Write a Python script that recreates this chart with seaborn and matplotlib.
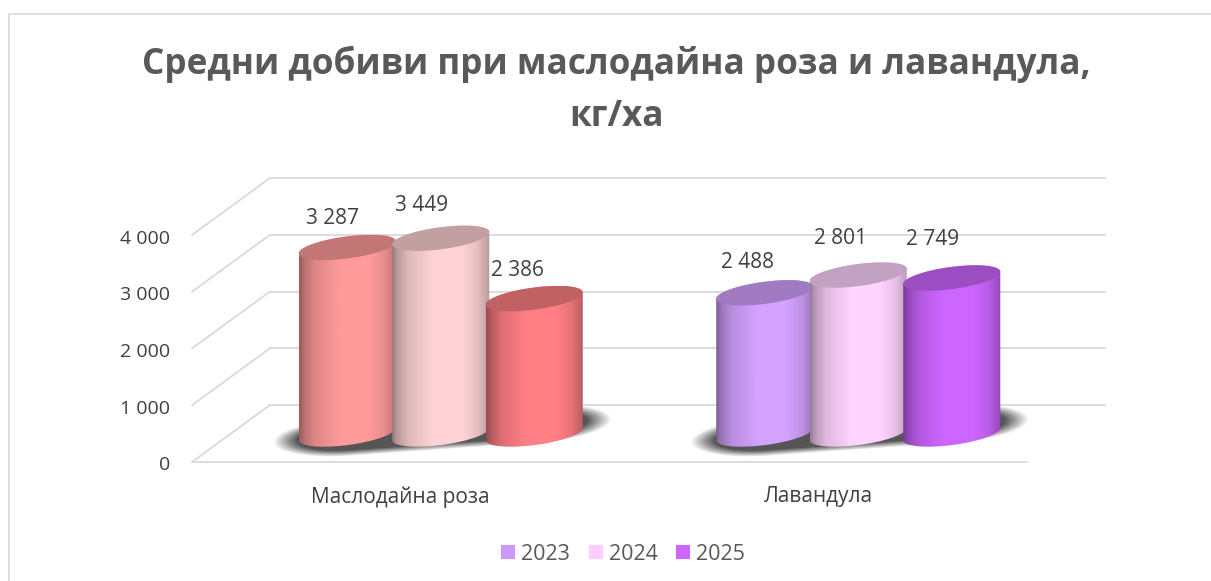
import numpy as np
import pandas as pd
import matplotlib
matplotlib.use("Agg")
import matplotlib.pyplot as plt
import seaborn as sns
from matplotlib.patches import PathPatch, Rectangle
from matplotlib.path import Path
from matplotlib.transforms import IdentityTransform, ScaledTranslation
from matplotlib.lines import Line2D

# ---------- data ----------
title = "Средни добиви при маслодайна роза и лавандула,\nкг/ха"
categories = ["Маслодайна роза", "Лавандула"]
years = ["2023", "2024", "2025"]
values_2023 = [3287, 2488]
values_2024 = [3449, 2801]
values_2025 = [2386, 2749]
y_ticks = [0, 1000, 2000, 3000, 4000]
y_tick_labels = ["0", "1 000", "2 000", "3 000", "4 000"]
value_labels_rose = ["3 287", "3 449", "2 386"]
value_labels_lavender = ["2 488", "2 801", "2 749"]
legend_colors = ["#CC99FF", "#FFCCFF", "#CC66FF"]
rose_colors = ["#FF9B9B", "#FFD3D5", "#FF7F84"]
lavender_colors = ["#D4A2FF", "#FFD4FF", "#CC66FF"]

# ---------- layout constants (pixels) ----------
W, H = 1211, 581
DPI = 100
TEXT = "#404040"
GRID = "#D9D9D9"
ax_left, ax_right, ax_zero, ax_top = 192, 1027, 462, 235
depth_x, depth_y = 78, 57
bar_dx, bar_dy = 40, 28
tilt = np.deg2rad(7.6)
ry = 11.0
half_w = 48.5
label_offsets = [(-15, 29), (-19, 33), (-17, 28), (-17, 30), (-18, 37), (-19, 38)]

sns.set_theme(style="white")
plt.rcParams["font.family"] = ["Open Sans", "DejaVu Sans"]

df = pd.DataFrame({
    "category": categories * 3,
    "year": [y for y in years for _ in categories],
    "value": values_2023 + values_2024 + values_2025,
})

fig = plt.figure(figsize=(W / DPI, H / DPI), dpi=DPI, facecolor="white")

# chart-area border (runs off the right and bottom of the picture)
fig.add_artist(Rectangle((8.5 / W, -0.05), 1.1, 1.05 - 14 / H,
                         transform=fig.transFigure, fill=False, ec="#DEDEDE", lw=1.4))


def px_axes(dx=0, dy=0, z=1):
    rect = [(ax_left + dx) / W, (H - ax_zero + dy) / H,
            (ax_right - ax_left) / W, (ax_zero - ax_top) / H]
    a = fig.add_axes(rect, zorder=z)
    a.patch.set_alpha(0)
    a.set_ylim(0, 4000)
    a.set_xlim(-0.5, 1.5)
    return a


# back wall
wall = px_axes(depth_x, depth_y, 1)
wall.set_yticks(y_ticks)
wall.set_xticks([])
wall.set_yticklabels([])
wall.tick_params(left=False)
wall.grid(axis="y", color=GRID, lw=1.3)
for g in wall.get_ygridlines():
    g.set_clip_on(False)
sns.despine(ax=wall, left=True, bottom=True)

# front axis with labels and floor line
front = px_axes(0, 0, 2)
front.set_xticks([0, 1])
front.set_xticklabels(categories, fontsize=15, color=TEXT)
front.set_yticks(y_ticks)
front.set_yticklabels(y_tick_labels, fontsize=14, color=TEXT)
front.tick_params(left=False, bottom=False)
front.tick_params(axis="y", pad=9.5)
front.tick_params(axis="x", pad=11.5)
sns.despine(ax=front, left=True, bottom=True)
front.axhline(0, color=GRID, lw=1.3, clip_on=False)
nudge = ScaledTranslation(0, -1.5 / DPI, fig.dpi_scale_trans)
for lab in front.get_yticklabels():
    lab.set_transform(lab.get_transform() + nudge)
for v in y_ticks:
    p0 = front.transData.transform((-0.5, v))
    fig.add_artist(Line2D([p0[0], p0[0] + depth_x], [p0[1], p0[1] + depth_y],
                          transform=IdentityTransform(), color=GRID, lw=1.3))

# bars (seaborn computes their geometry; they are then shaded as cylinders)
bars_ax = px_axes(bar_dx, bar_dy, 3)
sns.barplot(data=df, x="category", y="value", hue="year", hue_order=years,
            order=categories, palette=legend_colors, width=0.672, gap=0,
            legend=False, ax=bars_ax, errorbar=None)
bars_ax.set_xlim(-0.5, 1.5)
bars_ax.set_ylim(0, 4000)
bars_ax.set_axis_off()
patches = list(bars_ax.patches)
fig.canvas.draw()


def ellipse(cx, cy, t):
    u = np.array([np.cos(tilt), np.sin(tilt)])
    v = np.array([-np.sin(tilt), np.cos(tilt)])
    rx = half_w / np.cos(tilt)
    return (cx + rx * np.cos(t) * u[0] + ry * np.sin(t) * v[0],
            cy + rx * np.cos(t) * u[1] + ry * np.sin(t) * v[1])


def shade(color):
    c = np.array(matplotlib.colors.to_rgb(color))
    xs = np.linspace(0, 1, 200)
    prof = np.interp(xs, [0, 0.05, 0.16, 0.42, 0.72, 0.88, 1.0],
                     [0.58, 0.72, 0.87, 1.0, 1.0, 0.90, 0.72])
    return np.clip(c[None, None, :] * prof[None, :, None], 0, 1)


def bar_geometry(p):
    x = p.get_x() + p.get_width() / 2
    px0 = bars_ax.transData.transform((x, 0))
    px1 = bars_ax.transData.transform((x, p.get_height()))
    return px0[0], px0[1], px1[1]


# dataset order from seaborn: all of 2023, all of 2024, all of 2025
rects = {}
for i, p in enumerate(patches[:6]):
    rects[(i % 2, i // 2)] = p
    p.set_visible(False)

# floor shadows, one per category
shadow_tilt = np.deg2rad(4)
for cat in range(2):
    geo = [bar_geometry(rects[(cat, k)]) for k in range(3)]
    x0 = int(geo[0][0] - 95)
    x1 = int(geo[2][0] + 95)
    y_mid = geo[0][1]
    y0, y1 = int(y_mid - 40), int(y_mid + 45)
    xx, yy = np.meshgrid(np.arange(x0, x1), np.arange(y0, y1))
    # one stadium-shaped soft blob that runs under all three bars of the group
    gx0, gx1 = geo[0][0] + 1, geo[2][0] + 1
    px = xx - (gx0 + gx1) / 2
    py = yy - (y_mid + 3.0)
    dx = px * np.cos(shadow_tilt) + py * np.sin(shadow_tilt)
    dy = -px * np.sin(shadow_tilt) + py * np.cos(shadow_tilt)
    over = np.maximum(np.abs(dx) - (gx1 - gx0) / 2, 0)
    d = np.sqrt((over / 76) ** 2 + (dy / 19) ** 2)
    field = np.clip((1.0 - d) / 0.32, 0, 1)
    rgba = np.zeros(xx.shape + (4,))
    rgba[..., :3] = 0.24
    rgba[..., 3] = 0.88 * field
    shadow = bars_ax.imshow(rgba, extent=(x0, x1, y0, y1), origin="lower", aspect="auto",
                            transform=IdentityTransform(), zorder=1,
                            interpolation="bilinear")
    shadow.set_clip_on(False)

# cylinders
all_colors = [rose_colors, lavender_colors]
for cat in range(2):
    for k in range(3):
        cx, base, top = bar_geometry(rects[(cat, k)])
        col = all_colors[cat][k]
        tb = np.linspace(np.pi, 2 * np.pi, 60)
        tt = np.linspace(0, np.pi, 60)
        bx, by = ellipse(cx, base, tb)
        ux, uy = ellipse(cx, top, tt)
        verts = np.column_stack([np.r_[bx, ux], np.r_[by, uy]])
        path = Path(np.vstack([verts, verts[0]]), closed=True)
        clip = PathPatch(path, transform=IdentityTransform(), fc="none", ec="none")
        bars_ax.add_patch(clip)
        clip.set_clip_on(False)
        im = bars_ax.imshow(shade(col),
                            extent=(verts[:, 0].min(), verts[:, 0].max(),
                                    verts[:, 1].min(), verts[:, 1].max()),
                            aspect="auto", transform=IdentityTransform(),
                            zorder=2 + k, interpolation="bilinear")
        im.set_clip_path(clip)
        im.set_clip_box(fig.bbox)
        capx, capy = ellipse(cx, top, np.linspace(0, 2 * np.pi, 90))
        cap_col = np.array(matplotlib.colors.to_rgb(col)) * 0.76
        cap = PathPatch(Path(np.column_stack([capx, capy])), transform=IdentityTransform(),
                        fc=cap_col, ec="none", zorder=2 + k + 0.5)
        bars_ax.add_patch(cap)
        cap.set_clip_on(False)

bars_ax.set_xlim(-0.5, 1.5)
bars_ax.set_ylim(0, 4000)

# value labels
value_labels = [value_labels_rose, value_labels_lavender]
n = 0
for cat in range(2):
    for k in range(3):
        p = rects[(cat, k)]
        ox, oy = label_offsets[n]
        n += 1
        bars_ax.annotate(value_labels[cat][k],
                         (p.get_x() + p.get_width() / 2, p.get_height()),
                         xytext=(ox, oy), textcoords="offset pixels",
                         ha="center", va="center", fontsize=15, color=TEXT, zorder=10)

# title
fig.text(616 / W, 1 - 90 / H, title, ha="center", va="center", fontsize=25.3,
         fontweight="bold", color="#595959", linespacing=1.6)

# legend
handles = [Rectangle((0, 0), 1, 1, fc=c, ec="none") for c in legend_colors]
fig.legend(handles, years, loc="center", bbox_to_anchor=(623 / W, 1 - 554 / H), ncol=3,
           frameon=False, fontsize=15.5, labelcolor="#595959", handlelength=0.65,
           handleheight=0.65, handletextpad=0.28, columnspacing=0.88)

fig.savefig("out.png", dpi=DPI)
